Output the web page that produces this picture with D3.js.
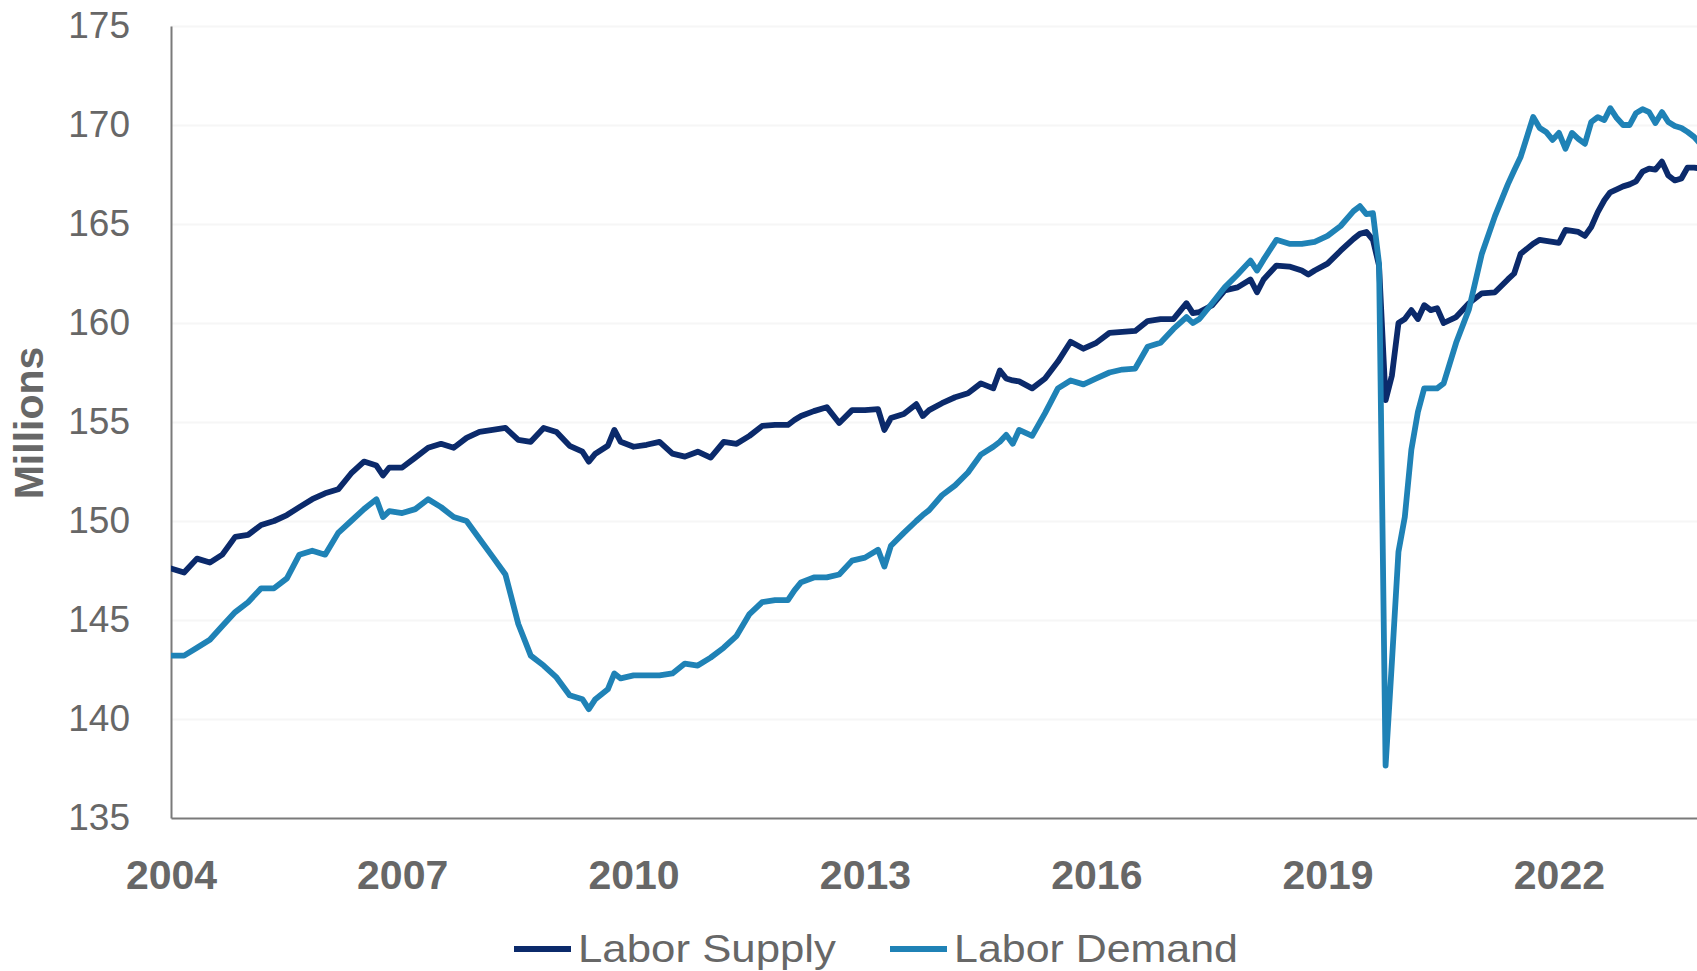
<!DOCTYPE html>
<html>
<head>
<meta charset="utf-8">
<script src="https://cdnjs.cloudflare.com/ajax/libs/d3/7.8.5/d3.min.js"></script>
<style>
    body { margin: 0; background: #ffffff; }
    svg { display: block; }
</style>
</head>
<body>
<script>

// monthly points (Millions)
var months = [
    "2004-07","2004-09","2004-11","2005-01","2005-03","2005-05","2005-07","2005-09","2005-11",
    "2006-01","2006-03","2006-05","2006-07","2006-09","2006-11","2007-01","2007-03","2007-04",
    "2007-05","2007-07","2007-09","2007-11","2008-01","2008-03","2008-05","2008-07","2008-09",
    "2008-11","2009-01","2009-03","2009-05","2009-07","2009-09","2009-11","2009-12","2010-01",
    "2010-03","2010-04","2010-05","2010-07","2010-09","2010-11","2011-01","2011-03","2011-05",
    "2011-07","2011-09","2011-11","2012-01","2012-03","2012-05","2012-07","2012-08","2012-09",
    "2012-11","2013-01","2013-03","2013-05","2013-07","2013-09","2013-10","2013-11","2014-01",
    "2014-03","2014-04","2014-05","2014-07","2014-09","2014-11","2015-01","2015-03","2015-04",
    "2015-05","2015-06","2015-07","2015-09","2015-11","2016-01","2016-03","2016-05","2016-07",
    "2016-09","2016-11","2017-01","2017-03","2017-05","2017-07","2017-09","2017-10","2017-11",
    "2018-01","2018-03","2018-05","2018-07","2018-08","2018-09","2018-11","2019-01","2019-03",
    "2019-04","2019-05","2019-07","2019-09","2019-11","2019-12","2020-01","2020-02","2020-03",
    "2020-04","2020-05","2020-06","2020-07","2020-08","2020-09","2020-10","2020-11","2020-12",
    "2021-01","2021-03","2021-05","2021-07","2021-09","2021-11","2021-12","2022-01","2022-03",
    "2022-04","2022-05","2022-06","2022-07","2022-08","2022-09","2022-10","2022-11","2022-12",
    "2023-01","2023-02","2023-03","2023-04","2023-05","2023-06","2023-07","2023-08","2023-09",
    "2023-10","2023-11","2023-12","2024-01","2024-02","2024-03","2024-04","2024-05"
];

var laborSupply = [
    147.6,147.4,148.1,147.9,148.3,149.2,149.3,149.8,150.0,
    150.3,150.7,151.1,151.4,151.6,152.4,153.0,152.8,152.3,
    152.7,152.7,153.2,153.7,153.9,153.7,154.2,154.5,154.6,
    154.7,154.1,154.0,154.7,154.5,153.8,153.5,153.0,153.4,
    153.8,154.6,154.0,153.75,153.85,154.0,153.4,153.25,153.5,
    153.2,154.0,153.9,154.3,154.8,154.85,154.85,155.1,155.3,
    155.55,155.75,154.95,155.6,155.6,155.65,154.6,155.2,155.4,
    155.9,155.3,155.6,155.95,156.25,156.45,156.95,156.7,157.6,
    157.2,157.1,157.05,156.7,157.2,158.05,159.05,158.7,159.0,
    159.5,159.55,159.6,160.1,160.2,160.2,161.0,160.5,160.55,
    160.9,161.65,161.8,162.2,161.55,162.2,162.9,162.85,162.65,
    162.45,162.65,163.0,163.65,164.25,164.5,164.6,164.2,162.9,
    156.1,157.35,160.0,160.2,160.65,160.2,160.9,160.65,160.75,
    160.0,160.3,161.0,161.5,161.55,162.2,162.5,163.5,164.0,
    164.2,164.15,164.1,164.05,164.7,164.65,164.6,164.4,164.85,
    165.6,166.2,166.6,166.75,166.9,167.0,167.15,167.65,167.8,
    167.75,168.15,167.45,167.2,167.3,167.85,167.85,167.8
];

var laborDemand = [
    143.2,143.2,143.6,144.0,144.7,145.4,145.9,146.6,146.6,
    147.1,148.3,148.5,148.3,149.4,150.0,150.6,151.1,150.2,
    150.5,150.4,150.6,151.1,150.7,150.2,150.0,149.1,148.2,
    147.3,144.8,143.2,142.7,142.1,141.2,141.0,140.5,141.0,
    141.5,142.3,142.05,142.2,142.2,142.2,142.3,142.8,142.7,
    143.1,143.6,144.2,145.3,145.9,146.0,146.0,146.5,146.9,
    147.15,147.15,147.3,148.0,148.15,148.55,147.7,148.75,149.4,
    150.0,150.3,150.55,151.3,151.8,152.45,153.35,153.75,154.0,
    154.35,153.9,154.6,154.3,155.45,156.7,157.1,156.9,157.2,
    157.5,157.65,157.7,158.8,159.0,159.7,160.3,160.0,160.2,
    161.0,161.8,162.45,163.15,162.65,163.2,164.2,164.0,164.0,
    164.05,164.1,164.4,164.9,165.65,165.9,165.5,165.55,163.0,
    137.65,142.9,148.45,150.2,153.6,155.5,156.7,156.7,156.7,
    156.95,159.0,160.7,163.5,165.4,167.0,167.7,168.4,170.4,
    169.85,169.65,169.25,169.6,168.8,169.6,169.3,169.05,170.15,
    170.4,170.25,170.85,170.35,170.0,170.0,170.6,170.8,170.65,
    170.1,170.65,170.15,169.95,169.85,169.65,169.4,169.05
];

var seriesNames = ["Labor Supply", "Labor Demand"];
var seriesColors = ["#0b2a6b", "#1f82b6"];
var yTicks = [135, 140, 145, 150, 155, 160, 165, 170, 175];
var xTickLabels = ["2004", "2007", "2010", "2013", "2016", "2019", "2022"];

var width = 1697;
var height = 971;
var plot = {left: 171, right: 1697, top: 26, bottom: 818};
var font = "'Liberation Sans', Arial, Helvetica, sans-serif";
var textColor = "#676767";

var parseMonth = d3.timeParse("%Y-%m");
var dates = months.map(parseMonth);

var xScale = d3.scaleTime()
    .domain([new Date(2004, 6, 1), new Date(2024, 3, 15)])
    .range([plot.left, plot.right]);

var yScale = d3.scaleLinear()
    .domain([135, 175])
    .range([plot.bottom, plot.top]);

// x labels sit on the July of each labelled year (data starts July 2004)
var xTickDates = xTickLabels.map(function (d) { return new Date(+d, 6, 1); });

var svg = d3.select("body")
    .append("svg")
    .attr("width", width)
    .attr("height", height);

svg.append("defs")
    .append("clipPath")
    .attr("id", "plot-clip")
    .append("rect")
    .attr("x", plot.left)
    .attr("y", 0)
    .attr("width", plot.right - plot.left)
    .attr("height", height);

// very faint horizontal grid
svg.append("g")
    .attr("class", "grid")
    .attr("transform", "translate(" + plot.left + ",0)")
    .call(d3.axisLeft(yScale)
        .tickValues(yTicks.slice(1))
        .tickSize(-(plot.right - plot.left))
        .tickFormat(""))
    .call(function (g) { g.select(".domain").remove(); })
    .selectAll("line")
    .attr("stroke", "#f6f6f6")
    .attr("stroke-width", 2);

// y axis
var yAxis = svg.append("g")
    .attr("transform", "translate(" + plot.left + ",0)")
    .call(d3.axisLeft(yScale)
        .tickValues(yTicks)
        .tickSize(0)
        .tickPadding(41));

yAxis.select(".domain")
    .attr("stroke", "#7a7a7a")
    .attr("stroke-width", 2);

yAxis.selectAll("text")
    .attr("fill", textColor)
    .style("font-family", font)
    .style("font-size", "37px");

// x axis
var xAxis = svg.append("g")
    .attr("transform", "translate(0," + plot.bottom + ")")
    .call(d3.axisBottom(xScale)
        .tickValues(xTickDates)
        .tickSize(0)
        .tickPadding(42)
        .tickFormat(function (d, i) { return xTickLabels[i]; }));

xAxis.select(".domain")
    .attr("stroke", "#7a7a7a")
    .attr("stroke-width", 2);

xAxis.selectAll("text")
    .attr("fill", textColor)
    .style("font-family", font)
    .style("font-size", "41px")
    .style("font-weight", "bold");

// axis title
svg.append("text")
    .attr("transform", "translate(29,423) rotate(-90)")
    .attr("text-anchor", "middle")
    .attr("dominant-baseline", "central")
    .attr("fill", textColor)
    .style("font-family", font)
    .style("font-size", "41px")
    .style("font-weight", "bold")
    .text("Millions");

// lines
var line = d3.line()
    .x(function (d) { return xScale(d.date); })
    .y(function (d) { return yScale(d.value); });

var series = [laborSupply, laborDemand].map(function (vals, k) {
    return {
        name: seriesNames[k],
        color: seriesColors[k],
        points: vals.map(function (v, i) { return {date: dates[i], value: v}; })
    };
});

svg.append("g")
    .attr("clip-path", "url(#plot-clip)")
    .selectAll("path")
    .data(series)
    .enter()
    .append("path")
    .attr("d", function (d) { return line(d.points); })
    .attr("fill", "none")
    .attr("stroke", function (d) { return d.color; })
    .attr("stroke-width", 5.8)
    .attr("stroke-linejoin", "round")
    .attr("stroke-linecap", "round");

// legend
var legendX = [514, 890];
var legendTextWidth = [258, 284];
var legend = svg.selectAll(".legend")
    .data(series)
    .enter()
    .append("g")
    .attr("class", "legend")
    .attr("transform", function (d, i) { return "translate(" + legendX[i] + ",949)"; });

legend.append("line")
    .attr("x1", 0)
    .attr("x2", 57)
    .attr("stroke", function (d) { return d.color; })
    .attr("stroke-width", 6);

legend.append("text")
    .attr("x", 64)
    .attr("y", 13)
    .attr("fill", textColor)
    .attr("textLength", function (d, i) { return legendTextWidth[i]; })
    .attr("lengthAdjust", "spacingAndGlyphs")
    .style("font-family", font)
    .style("font-size", "39px")
    .text(function (d) { return d.name; });

</script>
</body>
</html>
